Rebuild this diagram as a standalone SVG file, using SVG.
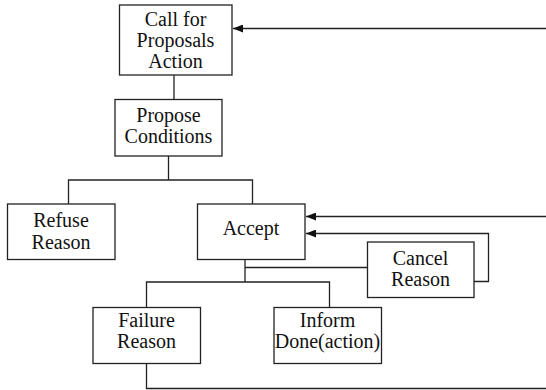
<svg xmlns="http://www.w3.org/2000/svg" width="546" height="390" viewBox="0 0 546 390">
<defs>
<style>
.box{fill:#fff;stroke:#222;stroke-width:1.3}
.ln{fill:none;stroke:#222;stroke-width:1.3}
.t{font-family:'Liberation Serif','Times New Roman','DejaVu Serif',serif;font-size:20px;fill:#111;text-anchor:middle}
</style>
<marker id="ah" viewBox="0 0 10 8" refX="10" refY="4" markerWidth="10" markerHeight="8" markerUnits="userSpaceOnUse" orient="auto">
<path d="M0,0 L10,4 L0,8 Z" fill="#111"/>
</marker>
</defs>
<rect width="546" height="390" fill="#fff"/>
<g id="connectors">
<path class="ln" d="M174,75 V99"/>
<path class="ln" d="M168.5,156 V180 M68.5,204 V180 H252.5 V204"/>
<path class="ln" d="M245,259 V282 M146.5,307 V282 H329.5 V307"/>
<path class="ln" d="M245,267.5 H367.5"/>
<path class="ln" d="M474,281.5 H488.5 V233.5 H306" marker-end="url(#ah)"/>
<path class="ln" d="M546,216.5 H306" marker-end="url(#ah)"/>
<path class="ln" d="M546,28.5 H233" marker-end="url(#ah)"/>
<path class="ln" d="M146.5,363 V388.5 H546"/>
</g>
<g class="t" font-family="Liberation Serif, serif">
<g id="call">
<rect class="box" x="119.5" y="5" width="112.5" height="70"/>
<text x="175.5" y="25.5">Call for</text>
<text x="175.5" y="46.5">Proposals</text>
<text x="175.5" y="67.5">Action</text>
</g>
<g id="propose">
<rect class="box" x="115" y="99.5" width="107" height="56.5"/>
<text x="168.5" y="121.5">Propose</text>
<text x="168.5" y="143">Conditions</text>
</g>
<g id="refuse">
<rect class="box" x="7.5" y="204" width="107.5" height="55.5"/>
<text x="61" y="226.5">Refuse</text>
<text x="61" y="249">Reason</text>
</g>
<g id="accept">
<rect class="box" x="197.5" y="204" width="107.5" height="55.5"/>
<text x="251" y="235">Accept</text>
</g>
<g id="cancel">
<rect class="box" x="367.5" y="242" width="106.5" height="55.5"/>
<text x="420.5" y="264.5">Cancel</text>
<text x="420.5" y="286">Reason</text>
</g>
<g id="failure">
<rect class="box" x="93" y="307.5" width="107.5" height="56"/>
<text x="146.5" y="326.5">Failure</text>
<text x="146.5" y="348">Reason</text>
</g>
<g id="inform">
<rect class="box" x="274" y="307.5" width="107.5" height="56"/>
<text x="327.5" y="326.5">Inform</text>
<text x="327.5" y="348">Done(action)</text>
</g>
</g>
</svg>
